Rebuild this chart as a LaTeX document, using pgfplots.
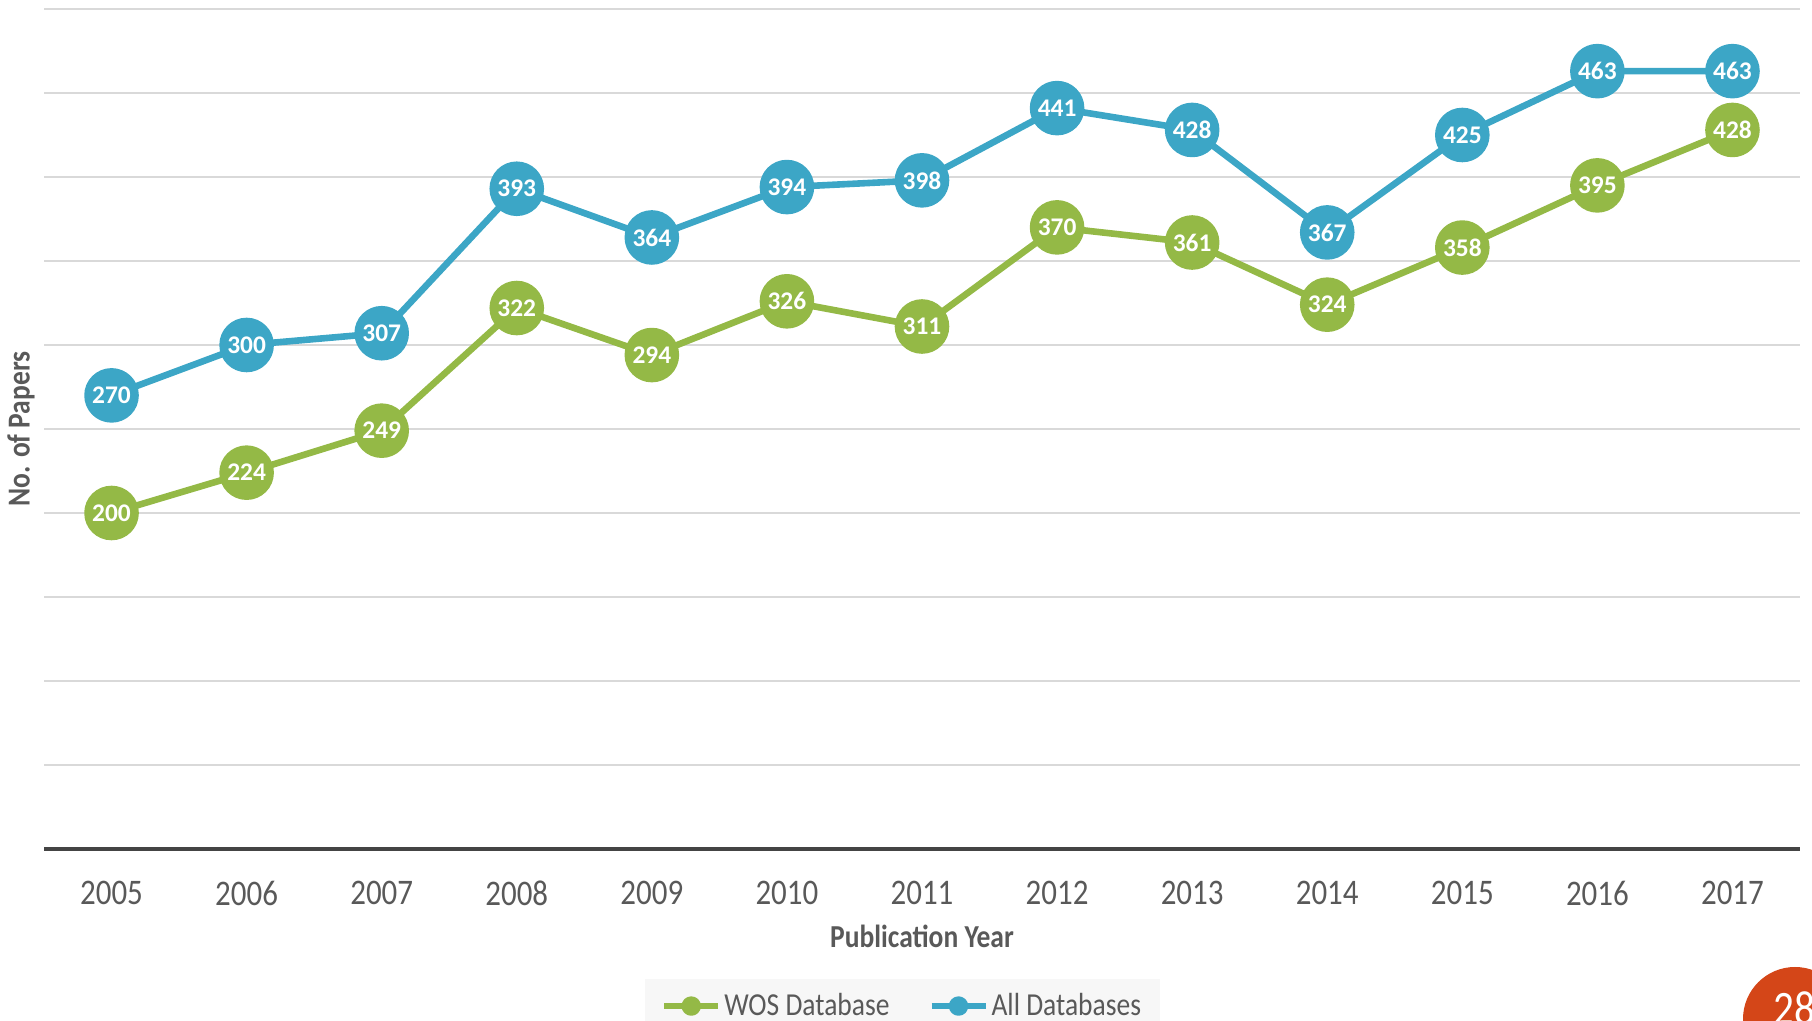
\documentclass[border=0pt]{standalone}
\usepackage{fontspec}
\setmainfont[FakeStretch=0.86]{Carlito}
\newfontfamily\valuefont{Carlito}
\usepackage{pgfplots}
\usepackage{pgfplotstable}
\pgfplotsset{compat=1.18}

\definecolor{wosgreen}{RGB}{148,185,70}
\definecolor{allblue}{RGB}{60,166,198}
\definecolor{labelgray}{RGB}{89,89,89}
\definecolor{gridgray}{RGB}{217,217,217}
\definecolor{axisgray}{RGB}{68,68,68}
\definecolor{slideorange}{RGB}{212,70,24}

% papers per publication year (index 0 = 2005)
\pgfplotstableread{
idx wos all
0  200 270
1  224 300
2  249 307
3  322 393
4  294 364
5  326 394
6  311 398
7  370 441
8  361 428
9  324 367
10 358 425
11 395 463
12 428 463
}\papers

\begin{document}
\begin{tikzpicture}
\path[use as bounding box] (0pt,0pt) rectangle (906pt,510.5pt);
\begin{axis}[
  at={(22pt,86pt)}, anchor=south west,
  scale only axis, width=878pt, height=420pt,
  xmin=-0.5, xmax=12.5, ymin=0, ymax=500,
  clip=false,
  axis line style={draw=none},
  major tick length=0pt,
  xtick={0,1,2,3,4,5,6,7,8,9,10,11,12},
  xticklabels={2005,2006,2007,2008,2009,2010,2011,2012,2013,2014,2015,2016,2017},
  xticklabel style={anchor=center, yshift=-22pt, font=\fontsize{18}{20}\selectfont, text=labelgray},
  ytick={50,100,...,500}, yticklabels={},
  ymajorgrids, major grid style={draw=gridgray, line width=0.75pt},
  extra y ticks={0}, extra y tick labels={},
  extra y tick style={grid=major, major grid style={draw=axisgray, line width=2pt}},
  /pgf/number format/assume math mode=true,
  xlabel={Publication Year},
  xlabel style={at={(axis description cs:0.5,-0.1036)}, anchor=center, font=\bfseries\fontsize{16}{18}\selectfont, text=labelgray},
  ylabel={No. of Papers},
  ylabel style={at={(axis description cs:-0.0131,0.5)}, anchor=center, rotate=0, font=\bfseries\fontsize{16}{18}\selectfont, text=labelgray},
  legend style={at={(axis description cs:0.489,-0.187)}, anchor=center, draw=none, fill=black!3,
    legend columns=2, font=\fontsize{16}{18}\selectfont, text=labelgray,
    nodes={inner xsep=1.5pt},
    /tikz/every even column/.append style={column sep=18pt},
    inner ysep=5pt, inner xsep=8pt},
  every node near coord/.append style={anchor=center, text=white, font=\valuefont\bfseries\fontsize{12.7}{14}\selectfont},
]
\addplot[wosgreen, line width=3.3pt, line join=round, mark=*, mark size=12pt, mark options={solid}, nodes near coords,
  legend image code/.code={\draw[wosgreen, line width=3pt] (0pt,0pt) -- (27pt,0pt); \fill[wosgreen] (13.5pt,0pt) circle (3.2pt);}]
  table[x=idx, y=wos] {\papers};
\addlegendentry{WOS Database}
\addplot[allblue, line width=3.3pt, line join=round, mark=*, mark size=12pt, mark options={solid}, nodes near coords,
  legend image code/.code={\draw[allblue, line width=3pt] (0pt,0pt) -- (27pt,0pt); \fill[allblue] (13.5pt,0pt) circle (3.2pt);}]
  table[x=idx, y=all] {\papers};
\addlegendentry{All Databases}
\end{axis}
% slide number badge
\fill[slideorange] (897.5pt,1pt) circle (26pt);
\node[text=white, font=\fontsize{24}{24}\selectfont, anchor=center] at (897pt,6.5pt) {28};
\end{tikzpicture}
\end{document}
